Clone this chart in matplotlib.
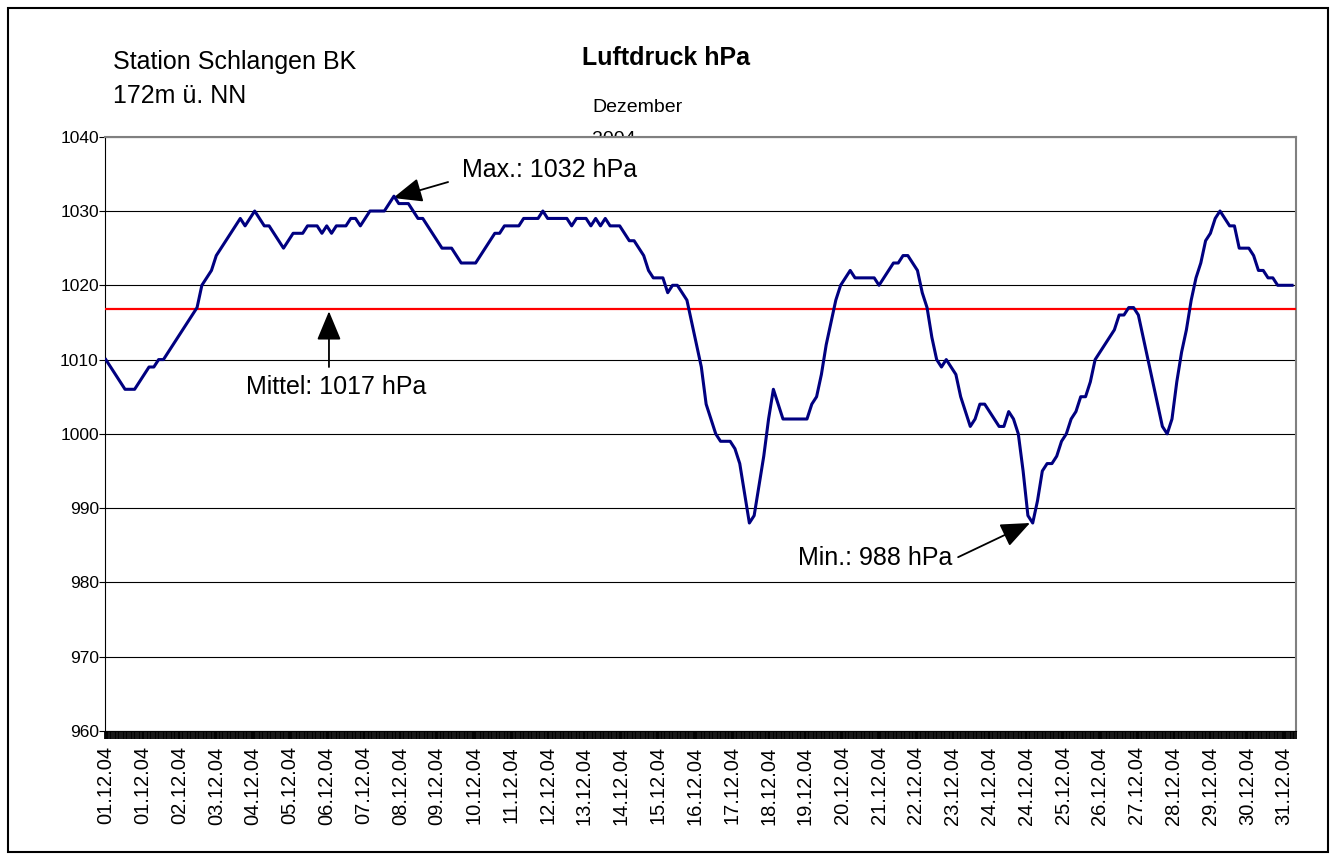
import matplotlib.pyplot as plt
import numpy as np
from matplotlib.patches import Rectangle

plt.rcParams['font.family'] = ['Liberation Sans', 'DejaVu Sans']

# Luftdruck in hPa, alle 3 Stunden (8 Werte je Tag)
pressure = [
    1010, 1009, 1008, 1007, 1006, 1006, 1006, 1007,   # 01.12.
    1008, 1009, 1009, 1010, 1010, 1011, 1012, 1013,   # 02.12.
    1014, 1015, 1016, 1017, 1020, 1021, 1022, 1024,   # 03.12.
    1025, 1026, 1027, 1028, 1029, 1028, 1029, 1030,   # 04.12.
    1029, 1028, 1028, 1027, 1026, 1025, 1026, 1027,   # 05.12.
    1027, 1027, 1028, 1028, 1028, 1027, 1028, 1027,   # 06.12.
    1028, 1028, 1028, 1029, 1029, 1028, 1029, 1030,   # 07.12.
    1030, 1030, 1030, 1031, 1032, 1031, 1031, 1031,   # 08.12.
    1030, 1029, 1029, 1028, 1027, 1026, 1025, 1025,   # 09.12.
    1025, 1024, 1023, 1023, 1023, 1023, 1024, 1025,   # 10.12.
    1026, 1027, 1027, 1028, 1028, 1028, 1028, 1029,   # 11.12.
    1029, 1029, 1029, 1030, 1029, 1029, 1029, 1029,   # 12.12.
    1029, 1028, 1029, 1029, 1029, 1028, 1029, 1028,   # 13.12.
    1029, 1028, 1028, 1028, 1027, 1026, 1026, 1025,   # 14.12.
    1024, 1022, 1021, 1021, 1021, 1019, 1020, 1020,   # 15.12.
    1019, 1018, 1015, 1012, 1009, 1004, 1002, 1000,   # 16.12.
    999, 999, 999, 998, 996, 992, 988, 989,           # 17.12.
    993, 997, 1002, 1006, 1004, 1002, 1002, 1002,     # 18.12.
    1002, 1002, 1002, 1004, 1005, 1008, 1012, 1015,   # 19.12.
    1018, 1020, 1021, 1022, 1021, 1021, 1021, 1021,   # 20.12.
    1021, 1020, 1021, 1022, 1023, 1023, 1024, 1024,   # 21.12.
    1023, 1022, 1019, 1017, 1013, 1010, 1009, 1010,   # 22.12.
    1009, 1008, 1005, 1003, 1001, 1002, 1004, 1004,   # 23.12.
    1003, 1002, 1001, 1001, 1003, 1002, 1000, 995,    # 24.12.
    989, 988, 991, 995, 996, 996, 997, 999,           # 25.12.
    1000, 1002, 1003, 1005, 1005, 1007, 1010, 1011,   # 26.12.
    1012, 1013, 1014, 1016, 1016, 1017, 1017, 1016,   # 27.12.
    1013, 1010, 1007, 1004, 1001, 1000, 1002, 1007,   # 28.12.
    1011, 1014, 1018, 1021, 1023, 1026, 1027, 1029,   # 29.12.
    1030, 1029, 1028, 1028, 1025, 1025, 1025, 1024,   # 30.12.
    1022, 1022, 1021, 1021, 1020, 1020, 1020, 1020,   # 31.12.
]
mean_pressure = 1016.8
n_hours = 744  # Stundenwerte im Dezember

tick_labels = ['01.12.04', '01.12.04'] + ['%02d.12.04' % d for d in range(2, 24)] \
    + ['24.12.04', '24.12.04'] + ['%02d.12.04' % d for d in range(25, 32)]

hours = np.arange(0, n_hours, 3)
label_pos = np.arange(0, n_hours, 23)[:len(tick_labels)]

fig = plt.figure(figsize=(13.36, 8.61), dpi=100)
ax = fig.add_axes([0.0786, 0.151, 0.8915, 0.6902])
ax.set_zorder(10)

ax.plot(hours, pressure, color='#000080', lw=2.2, zorder=4)
ax.axhline(mean_pressure, color='red', lw=1.6, zorder=3)

ax.set_xlim(-0.5, n_hours - 0.5)
ax.set_ylim(960, 1040)
ax.set_yticks(np.arange(960, 1041, 10))
ax.tick_params(axis='y', labelsize=12.5, length=4, width=0.8, direction='out', pad=0.5)
ax.set_xticks(label_pos)
ax.set_xticklabels(tick_labels, rotation=90, fontsize=14.5)
ax.set_xticks(np.arange(-0.5, n_hours, 1), minor=True)
ax.tick_params(axis='x', which='both', length=6, width=1.3, direction='out', pad=5)

ax.yaxis.grid(True, color='black', lw=0.8)
ax.set_axisbelow(True)
for side in ['top', 'right']:
    ax.spines[side].set_color('#808080')
    ax.spines[side].set_linewidth(1.5)

arrow = dict(arrowstyle='-|>,head_length=1.2,head_width=0.5', color='black',
             lw=1.3, mutation_scale=15, shrinkA=0, shrinkB=0)
ax.annotate('', xy=(179.4, 1031.75), xytext=(213.8, 1033.9), arrowprops=arrow)
ax.text(222.5, 1035.5, 'Max.: 1032 hPa', fontsize=18, va='center')
ax.annotate('', xy=(139.4, 1016.5), xytext=(139.4, 1009.0), arrowprops=arrow)
ax.text(87.6, 1006.3, 'Mittel: 1017 hPa', fontsize=18, va='center')
ax.annotate('', xy=(577.3, 988.0), xytext=(532.4, 983.4), arrowprops=arrow)
ax.text(432.4, 983.3, 'Min.: 988 hPa', fontsize=18, va='center')

fig.text(113 / 1336, 1 - 62 / 861, 'Station Schlangen BK', fontsize=18, va='center')
fig.text(113 / 1336, 1 - 96 / 861, '172m ü. NN', fontsize=18, va='center')
fig.text(582 / 1336, 1 - 58 / 861, 'Luftdruck hPa', fontsize=18, weight='bold', va='center')
fig.text(592 / 1336, 1 - 108 / 861, 'Dezember', fontsize=14, va='center')
fig.text(592 / 1336, 1 - 140 / 861, '2004', fontsize=14, va='center')

fig.patches.append(Rectangle((8 / 1336, 9 / 861), 1320 / 1336, 844 / 861,
                             transform=fig.transFigure, fill=False, lw=1.5, ec='black'))

fig.savefig('out.png', dpi=100)
